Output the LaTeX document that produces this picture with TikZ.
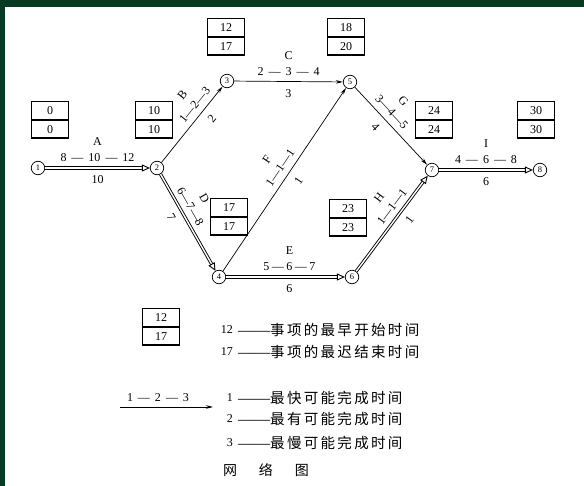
\documentclass[tikz,border=0pt]{standalone}
\usepackage{fontspec}
\setmainfont{Liberation Serif}
\newfontfamily\cjk[LetterSpace=16]{Noto Sans CJK SC}
\newfontfamily\cjkplain{Noto Sans CJK SC}
\usetikzlibrary{arrows.meta,calc}
\definecolor{bordergreen}{RGB}{6,58,34}
\newcommand\sdash{\hspace{5pt}—\hspace{5pt}}
\newcommand\ldash{{\fontsize{16}{16}\rmfamily ——}}
\newcommand\twobox[5]{%
  \node[cell, anchor=south] (#1t) at (#2,#3) {#4};
  \node[cell, anchor=north] (#1b) at (#2,#3) {#5};}
\newcommand\elab[6]{%
  \path ($(#1)!26pt!90:(#2)$) -- ($(#2)!26pt!-90:(#1)$) node[lab, pos=#3, sloped] {#4};
  \path ($(#1)!10pt!90:(#2)$) -- ($(#2)!10pt!-90:(#1)$) node[lab, pos=#3, sloped] {#5};
  \path ($(#1)!12pt!-90:(#2)$) -- ($(#2)!12pt!90:(#1)$) node[lab, pos=#3, sloped] {#6};}
\begin{document}
\begin{tikzpicture}[x=1pt,y=-1pt,
  ev/.style={circle, draw, line width=0.7pt, minimum size=13.5pt, inner sep=0pt, font=\fontsize{8.5}{8.5}\selectfont},
  cell/.style={draw, line width=1.3pt, minimum width=37pt, minimum height=17.5pt, inner sep=0pt, font=\fontsize{12}{12}\selectfont},
  crit/.style={double=white, double distance=1.4pt, line width=0.9pt, -{Triangle[open, length=8pt, width=7pt]}},
  norm/.style={line width=0.7pt, -{Stealth[length=7pt, width=3.5pt]}},
  lab/.style={font=\fontsize{12}{12}\selectfont, inner sep=0pt},
  legnum/.style={font=\fontsize{12}{12}\selectfont, inner sep=0pt, anchor=east},
  legtxt/.style={font=\fontsize{14.5}{14.5}\cjk, inner sep=0pt, anchor=west},
  title/.style={font=\fontsize{14}{14}\cjkplain, inner sep=0pt},
]
\useasboundingbox (0,0) rectangle (584,486);
\fill[white] (0,0) rectangle (584,486);
\fill[bordergreen] (0,0) rectangle (584,7);
\fill[bordergreen] (0,0) rectangle (5,486);

% events
\node[ev] (n1) at (38,168) {1};
\node[ev] (n2) at (157,168) {2};
\node[ev] (n3) at (227,81) {3};
\node[ev] (n5) at (350,82) {5};
\node[ev] (n7) at (432,170) {7};
\node[ev] (n8) at (540,170) {8};
\node[ev] (n4) at (219,277) {4};
\node[ev] (n6) at (352,277) {6};

% activities
\draw[crit] (n1) -- (n2);
\draw[norm] (n2) -- (n3);
\draw[crit] (n2) -- (n4);
\draw[norm] (n3) -- (n5);
\draw[norm] (n4) -- (n5);
\draw[crit] (n4) -- (n6);
\draw[norm] (n5) -- (n7);
\draw[crit] (n6) -- (n7);
\draw[crit] (n7) -- (n8);

% activity labels
\elab{n1}{n2}{0.5}{A}{8\sdash10\sdash12}{10}
\elab{n2}{n3}{0.65}{B}{1—2—3}{2}
\elab{n3}{n5}{0.5}{C}{2\sdash3\sdash4}{3}
\elab{n2}{n4}{0.4}{D}{6—7—8}{7}
\elab{n4}{n6}{0.53}{E}{5\hspace{2.5pt}—\hspace{2.5pt}6\hspace{2.5pt}—\hspace{2.5pt}7}{6}
\elab{n4}{n5}{0.53}{F}{1—1—1}{1}
\elab{n5}{n7}{0.42}{G}{3—4—5}{4}
\elab{n6}{n7}{0.6}{H}{1—1—1}{1}
\elab{n7}{n8}{0.5}{I}{4\sdash6\sdash8}{6}

% time boxes
\twobox{b1}{50}{120}{0}{0}
\twobox{b2}{154}{120}{10}{10}
\twobox{b3}{226}{37}{12}{17}
\twobox{b5}{346}{37}{18}{20}
\twobox{b4}{229}{217}{17}{17}
\twobox{b7}{434}{120}{24}{24}
\twobox{b8}{536}{120}{30}{30}
\twobox{b6}{348}{218}{23}{23}

% legend
\twobox{lg}{161}{327}{12}{17}
\node[legnum] (l1n) at (233,330) {12};
\node[legtxt] (l1t) at (238,330) {\ldash 事项的最早开始时间};
\node[legnum] (l2n) at (233,352) {17};
\node[legtxt] (l2t) at (238,352) {\ldash 事项的最迟结束时间};
\node[lab] (lex) at (158,398) {1\sdash2\sdash3};
\coordinate (lus) at (120,407);
\coordinate (lue) at (213,407);
\draw[norm] (lus) -- (lue);
\node[legnum] (l3n) at (233,398) {1};
\node[legtxt] (l3t) at (238,398) {\ldash 最快可能完成时间};
\node[legnum] (l4n) at (233,419) {2};
\node[legtxt] (l4t) at (238,419) {\ldash 最有可能完成时间};
\node[legnum] (l5n) at (233,443) {3};
\node[legtxt] (l5t) at (238,443) {\ldash 最慢可能完成时间};
\node[title] (ttl) at (266,470) {网\hspace{22pt}络\hspace{22pt}图};
\end{tikzpicture}
\end{document}
